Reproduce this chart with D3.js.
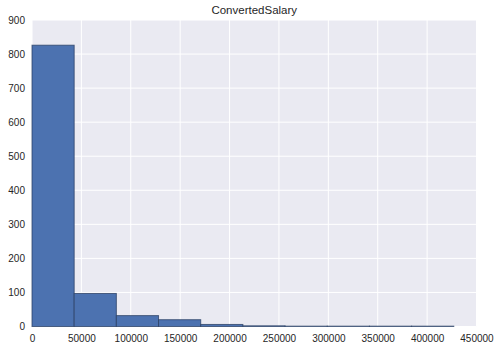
<!DOCTYPE html>
<html>
<head>
<meta charset="utf-8">
<script src="https://cdn.jsdelivr.net/npm/d3@7"></script>
<style>
  html, body { margin: 0; padding: 0; background: #fff; }
  svg { display: block; }
</style>
</head>
<body>
<svg id="chart" width="501" height="350"></svg>
<script>
const title = "ConvertedSalary";
const binEdges = [0, 42700, 85400, 128100, 170800, 213500, 256200, 298900, 341600, 384300, 427000];
const counts = [826, 97, 32, 20, 6, 2, 1, 1, 1, 1];
const xTicks = [0, 50000, 100000, 150000, 200000, 250000, 300000, 350000, 400000, 450000];
const yTicks = [0, 100, 200, 300, 400, 500, 600, 700, 800, 900];

const bins = counts.map((c, i) => ({ x0: binEdges[i], x1: binEdges[i + 1], count: c }));

const svg = d3.select("#chart");
const m = { left: 32, right: 24.5, top: 20, bottom: 23.5 };
const W = 501, H = 350;

const x = d3.scaleLinear().domain([0, 450000]).range([m.left, W - m.right]);
const y = d3.scaleLinear().domain([0, 900]).range([H - m.bottom, m.top]);

svg.append("rect")
  .attr("x", x(0)).attr("y", y(900))
  .attr("width", x(450000) - x(0)).attr("height", y(0) - y(900))
  .attr("fill", "#EAEAF2");

// gridlines
svg.append("g").selectAll("line").data(xTicks).join("line")
  .attr("x1", d => x(d)).attr("x2", d => x(d))
  .attr("y1", y(0)).attr("y2", y(900))
  .attr("stroke", "#fff").attr("stroke-width", 1);
svg.append("g").selectAll("line").data(yTicks).join("line")
  .attr("x1", x(0)).attr("x2", x(450000))
  .attr("y1", d => y(d)).attr("y2", d => y(d))
  .attr("stroke", "#fff").attr("stroke-width", 1);

// bars
svg.append("g").selectAll("rect").data(bins).join("rect")
  .attr("x", d => x(d.x0))
  .attr("y", d => y(d.count))
  .attr("width", d => x(d.x1) - x(d.x0))
  .attr("height", d => y(0) - y(d.count))
  .attr("fill", "#4C72B0")
  .attr("stroke", "#2a3f63")
  .attr("stroke-opacity", 0.75)
  .attr("stroke-width", 1);

// axes
const fontFamily = "'Liberation Sans', Arial, sans-serif";
const xAxis = svg.append("g")
  .attr("transform", `translate(0,${y(0)})`)
  .call(d3.axisBottom(x).tickValues(xTicks).tickFormat(d3.format("d")).tickSize(0).tickPadding(8));
xAxis.select(".domain").remove();
xAxis.selectAll("text").attr("font-family", fontFamily).attr("font-size", 10).attr("fill", "#262626");

const yAxis = svg.append("g")
  .attr("transform", `translate(${x(0)},0)`)
  .call(d3.axisLeft(y).tickValues(yTicks).tickFormat(d3.format("d")).tickSize(0).tickPadding(7));
yAxis.select(".domain").remove();
yAxis.selectAll("text").attr("font-family", fontFamily).attr("font-size", 10).attr("fill", "#262626");

svg.append("text")
  .attr("x", (x(0) + x(450000)) / 2)
  .attr("y", 14)
  .attr("text-anchor", "middle")
  .attr("font-family", fontFamily)
  .attr("font-size", 11.5)
  .attr("fill", "#262626")
  .text(title);
</script>
</body>
</html>
